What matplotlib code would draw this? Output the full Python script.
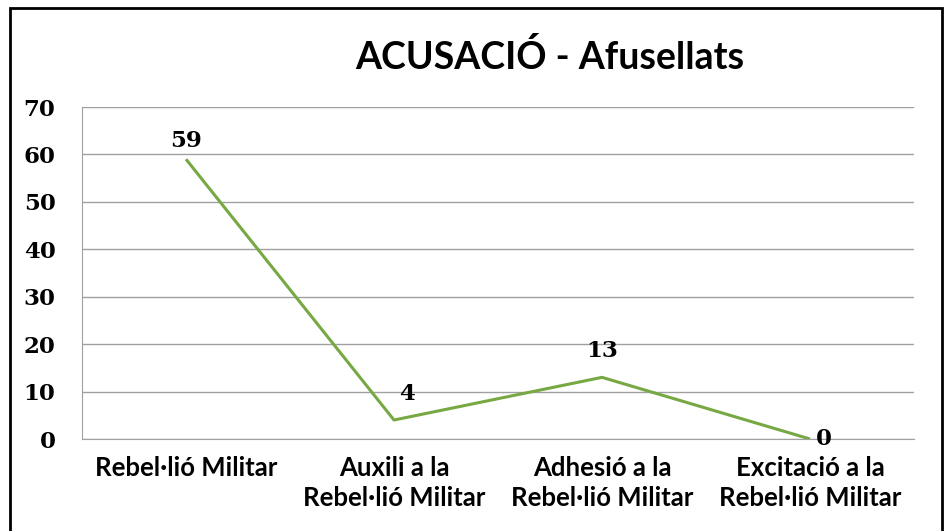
import matplotlib
matplotlib.use("Agg")
import matplotlib.pyplot as plt
from matplotlib.patches import Rectangle

# ── DATA ───────────────────────────────────────────────────
categories = ["Rebel·lió Militar",
              "Auxili a la\nRebel·lió Militar",
              "Adhesió a la\nRebel·lió Militar",
              "Excitació a la\nRebel·lió Militar"]
afusellats = [59, 4, 13, 0]
y_ticks = [0, 10, 20, 30, 40, 50, 60, 70]

# label offsets in points (dx, dy) and vertical alignment
label_offsets = [(0, 8.6), (9.5, 14.5), (0, 14.5), (10, 0)]
label_va = ["baseline", "baseline", "baseline", "center"]

GREEN = "#77a843"
GRID = "#a0a0a0"

fig = plt.figure(figsize=(9.44, 5.31), dpi=100)
ax = fig.add_axes([82 / 944, 1 - 439 / 531, 832 / 944, 332 / 531])

x = list(range(len(categories)))
ax.plot(x, afusellats, color=GREEN, linewidth=2.2, solid_capstyle="butt")

for xi, v, (dx, dy), va in zip(x, afusellats, label_offsets, label_va):
    ax.annotate(str(v), (xi, v), xytext=(dx, dy), textcoords="offset points",
                ha="center", va=va,
                fontsize=16.5, fontweight="bold", family="DejaVu Serif")

ax.set_xlim(-0.5, len(categories) - 0.5)
ax.set_ylim(0, 70)
ax.set_yticks(y_ticks)
ax.set_yticklabels([str(t) for t in y_ticks], fontsize=16.5, fontweight="bold",
                   family="DejaVu Serif")
ax.set_xticks(x)
ax.set_xticklabels(categories, fontsize=18.5, fontweight="bold", family="Lato",
                   linespacing=1.3)
ax.tick_params(axis="y", length=0, pad=19)
ax.tick_params(axis="x", length=0, pad=12)
ax.yaxis.grid(True, color=GRID, linewidth=1)
ax.set_axisbelow(True)
for side in ["top", "right"]:
    ax.spines[side].set_visible(False)
ax.spines["left"].set_color(GRID)
ax.spines["bottom"].set_color(GRID)

fig.text(550 / 944, 1 - 57 / 531, "ACUSACIÓ - Afusellats", ha="center",
         va="center", fontsize=27, fontweight="bold", family="Lato")

fig.patches.append(Rectangle((10 / 944, -0.05), 932 / 944, 1.05 - 8 / 531,
                             transform=fig.transFigure, fill=False,
                             edgecolor="black", linewidth=2))

fig.savefig("out.png", dpi=100)
